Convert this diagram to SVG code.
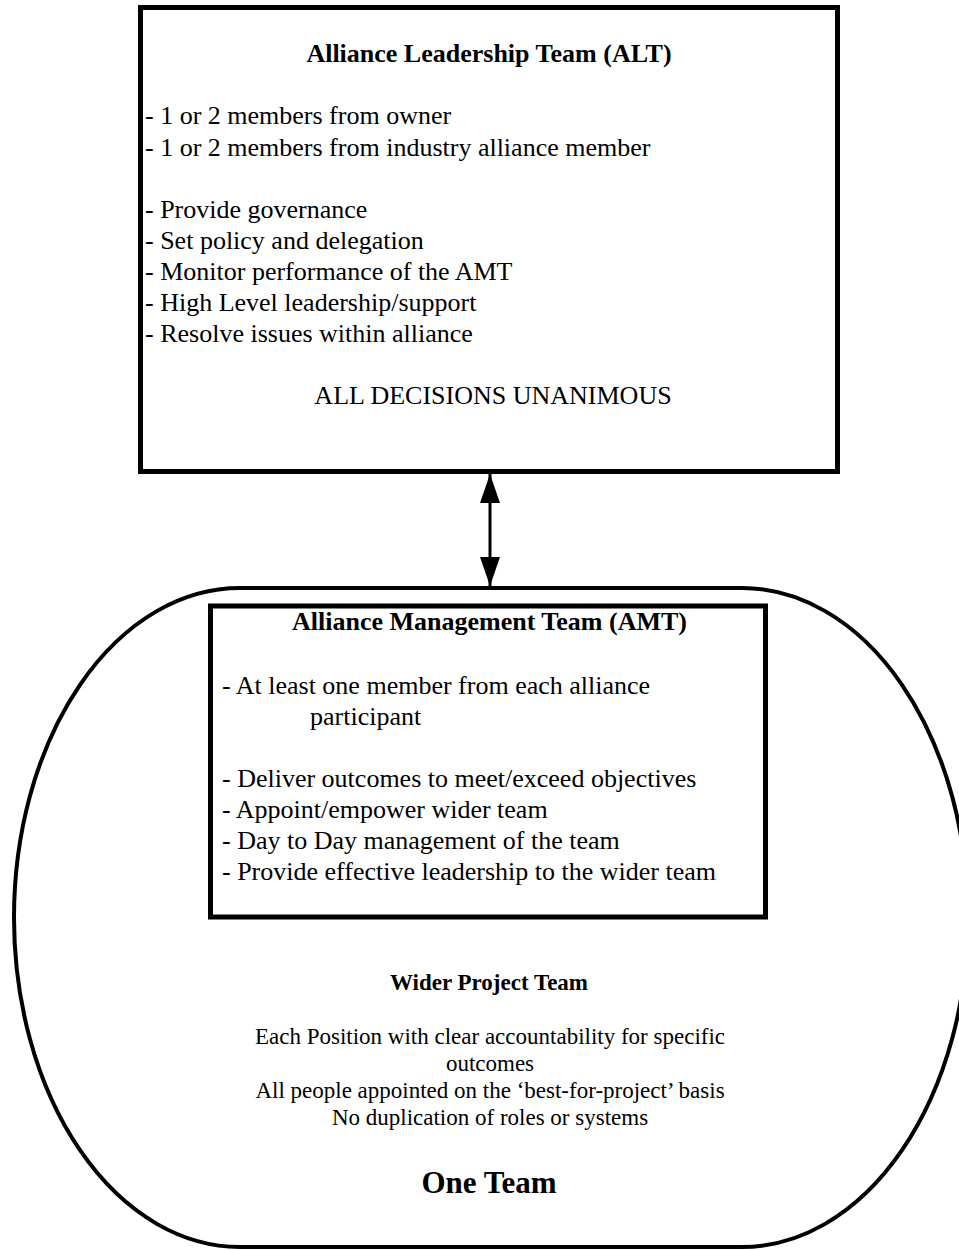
<svg xmlns="http://www.w3.org/2000/svg" width="959" height="1250" viewBox="0 0 959 1250">
  <style>
    .box { fill: none; stroke: #000; stroke-width: 5; }
    .outer { fill: none; stroke: #000; stroke-width: 4; }
    .t { font-family: "Liberation Serif", "Times New Roman", serif; fill: #000; font-size: 26px; }
    .b { font-weight: bold; }
    .c { text-anchor: middle; }
    .w { font-size: 23px; }
    .big { font-size: 31px; font-weight: bold; }
  </style>
  <defs>
    <!-- solid triangular arrowhead, tip on the line end -->
    <marker id="arrow" viewBox="0 0 29 20" refX="29" refY="10" markerWidth="29" markerHeight="20" markerUnits="userSpaceOnUse" orient="auto-start-reverse">
      <path d="M0,0 L29,10 L0,20 Z" fill="#000"/>
    </marker>
  </defs>

  <rect width="959" height="1250" fill="#fff"/>

  <!-- Wider project team: rounded outline -->
  <g id="wider-team">
    <rect class="outer" x="14" y="588" width="954" height="659" rx="226" ry="329.5"/>
    <text class="t b c w" x="489" y="990">Wider Project Team</text>
    <text class="t c w" x="490" y="1044">Each Position with clear accountability for specific</text>
    <text class="t c w" x="490" y="1071">outcomes</text>
    <text class="t c w" x="490" y="1098">All people appointed on the ‘best-for-project’ basis</text>
    <text class="t c w" x="490" y="1125">No duplication of roles or systems</text>
    <text class="t c big" x="489" y="1193">One Team</text>
  </g>

  <!-- Alliance Leadership Team -->
  <g id="alt">
    <rect class="box" x="140.5" y="7.5" width="697" height="464"/>
    <text class="t b c" x="489" y="62">Alliance Leadership Team (ALT)</text>
    <text class="t" x="145" y="124">- 1 or 2 members from owner</text>
    <text class="t" x="145" y="156">- 1 or 2 members from industry alliance member</text>
    <text class="t" x="145" y="218">- Provide governance</text>
    <text class="t" x="145" y="249">- Set policy and delegation</text>
    <text class="t" x="145" y="280">- Monitor performance of the AMT</text>
    <text class="t" x="145" y="311">- High Level leadership/support</text>
    <text class="t" x="145" y="342">- Resolve issues within alliance</text>
    <text class="t c" x="493" y="404">ALL DECISIONS UNANIMOUS</text>
  </g>

  <!-- Alliance Management Team -->
  <g id="amt">
    <rect class="box" x="210.5" y="606" width="555" height="311"/>
    <text class="t b c" x="489.5" y="630">Alliance Management Team (AMT)</text>
    <text class="t" x="222" y="694">- At least one member from each alliance</text>
    <text class="t" x="310" y="725">participant</text>
    <text class="t" x="222" y="787">- Deliver outcomes to meet/exceed objectives</text>
    <text class="t" x="222" y="818">- Appoint/empower wider team</text>
    <text class="t" x="222" y="849">- Day to Day management of the team</text>
    <text class="t" x="222" y="880">- Provide effective leadership to the wider team</text>
  </g>

  <!-- Connectors -->
  <g id="connectors">
    <line x1="490" y1="474" x2="490" y2="586" stroke="#000" stroke-width="3" marker-start="url(#arrow)" marker-end="url(#arrow)"/>
  </g>
</svg>
